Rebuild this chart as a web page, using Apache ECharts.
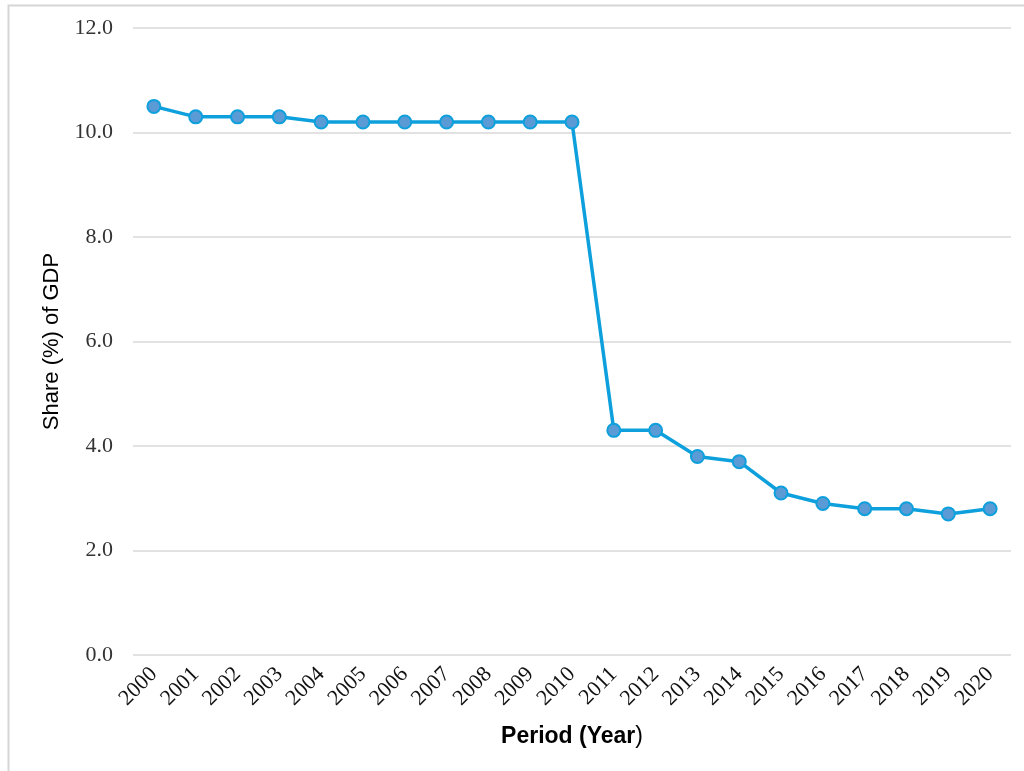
<!DOCTYPE html>
<html>
<head>
<meta charset="utf-8">
<style>
html,body{margin:0;padding:0;background:#fff;}
#chart{width:1024px;height:771px;}
</style>
<script src="https://cdn.jsdelivr.net/npm/echarts@6/dist/echarts.min.js"></script>
</head>
<body>
<div id="chart"></div>
<script>
var years = ['2000','2001','2002','2003','2004','2005','2006','2007','2008','2009','2010',
             '2011','2012','2013','2014','2015','2016','2017','2018','2019','2020'];
var shareOfGDP = [10.5,10.3,10.3,10.3,10.2,10.2,10.2,10.2,10.2,10.2,10.2,
                  4.3,4.3,3.8,3.7,3.1,2.9,2.8,2.8,2.7,2.8];
var yTicks = [0,2,4,6,8,10,12];

var chart = echarts.init(document.getElementById('chart'), null, {renderer:'canvas'});
chart.setOption({
  animation:false,
  backgroundColor:'#ffffff',
  graphic:[{
    type:'rect', left:6, top:3, shape:{width:1040, height:790},
    style:{fill:'none', stroke:'#d6d6d6', lineWidth:2}, silent:true, z:-1
  }],
  grid:{left:133, right:13, top:28, bottom:116},
  xAxis:{
    type:'category',
    data:years,
    boundaryGap:true,
    axisLine:{show:false},
    axisTick:{show:false},
    axisLabel:{
      rotate:45, margin:16, interval:0,
      fontFamily:'Liberation Serif', fontSize:22, color:'#111'
    },
    name:'{b|Period (Year}{n|)}',
    nameLocation:'middle',
    nameGap:70,
    nameTextStyle:{
      rich:{
        b:{fontFamily:'Liberation Sans', fontWeight:'bold', fontSize:23, color:'#000'},
        n:{fontFamily:'Liberation Sans', fontWeight:'normal', fontSize:23, color:'#000'}
      }
    }
  },
  yAxis:{
    type:'value',
    min:yTicks[0], max:yTicks[yTicks.length-1], interval:2,
    axisLine:{show:false},
    axisTick:{show:false},
    splitLine:{lineStyle:{color:'#d9d9d9', width:1.5}},
    axisLabel:{
      margin:20,
      fontFamily:'Liberation Serif', fontSize:22, color:'#333',
      formatter:function(v){return v.toFixed(1);}
    },
    name:'Share (%) of GDP',
    nameLocation:'middle',
    nameGap:70,
    nameTextStyle:{fontFamily:'Liberation Sans', fontSize:22, color:'#000'}
  },
  series:[{
    type:'line',
    data:shareOfGDP,
    symbol:'circle',
    symbolSize:13,
    lineStyle:{color:'#0ea0dc', width:3.5},
    itemStyle:{color:'#5b9bd5', borderColor:'#0ea0dc', borderWidth:2}
  }]
});
</script>
</body>
</html>
